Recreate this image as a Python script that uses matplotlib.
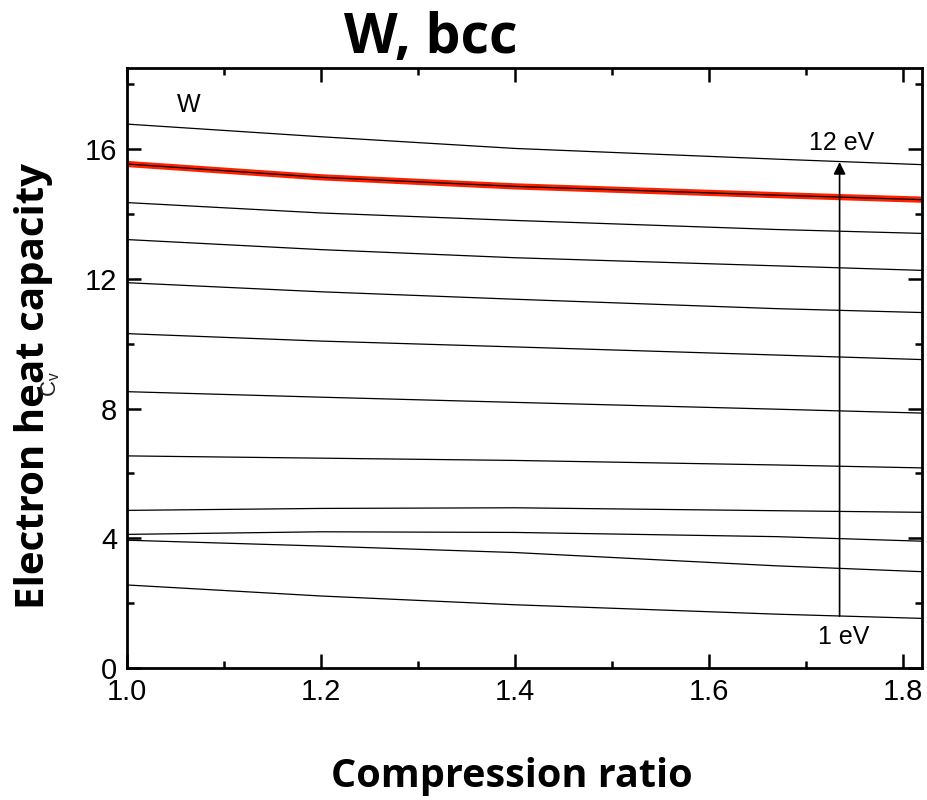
import matplotlib.pyplot as plt
from matplotlib.ticker import MultipleLocator

# compression ratio sample points
ratio = [1.0, 1.2, 1.4, 1.67, 1.82]

# electron heat capacity curves, 1 eV (bottom) to 12 eV (top)
cv_curves = [
    [2.56, 2.22, 1.95, 1.66, 1.53],
    [3.94, 3.76, 3.56, 3.15, 2.97],
    [4.12, 4.20, 4.18, 4.05, 3.91],
    [4.86, 4.92, 4.94, 4.85, 4.80],
    [6.54, 6.47, 6.40, 6.26, 6.17],
    [8.52, 8.35, 8.19, 7.98, 7.86],
    [10.31, 10.08, 9.90, 9.65, 9.51],
    [11.88, 11.60, 11.37, 11.08, 10.96],
    [13.21, 12.90, 12.65, 12.40, 12.26],
    [14.35, 14.03, 13.80, 13.52, 13.40],
    [15.54, 15.13, 14.85, 14.58, 14.44],
    [16.77, 16.38, 16.02, 15.69, 15.52],
]
# the highlighted curve (red)
highlight = [15.54, 15.13, 14.85, 14.58, 14.44]

fig = plt.figure(figsize=(9.28, 8), dpi=100)
ax = fig.add_axes([0.137, 0.165, 0.8565, 0.75])

ax.plot(ratio, highlight, color='#ff2000', lw=4.5, solid_capstyle='butt')
for c in cv_curves:
    ax.plot(ratio, c, color='black', lw=0.9)

ax.set_xlim(1.0, 1.82)
ax.set_ylim(0, 18.5)

ax.annotate('', xy=(1.735, 15.6), xytext=(1.735, 1.6),
            arrowprops=dict(arrowstyle='-|>', color='black', lw=1.2,
                            mutation_scale=18, shrinkA=0, shrinkB=0))
ax.text(1.737, 16.2, '12 eV', fontsize=18, ha='center', va='center',
        family='Liberation Sans')
ax.text(1.739, 0.97, '1 eV', fontsize=18, ha='center', va='center',
        family='Liberation Sans')
ax.text(1.064, 17.35, 'W', fontsize=18, ha='center', va='center',
        family='Liberation Sans')

ax.xaxis.set_major_locator(MultipleLocator(0.2))
ax.xaxis.set_minor_locator(MultipleLocator(0.1))
ax.yaxis.set_major_locator(MultipleLocator(4))
ax.yaxis.set_minor_locator(MultipleLocator(2))
ax.xaxis.set_major_formatter(plt.FuncFormatter(lambda v, p: '%.1f' % v))
ax.tick_params(which='both', direction='in', top=True, right=True,
               labelsize=21, width=1.8, pad=7)
ax.tick_params(which='major', length=10)
ax.tick_params(which='minor', length=5)
for lab in ax.get_xticklabels() + ax.get_yticklabels():
    lab.set_family('Liberation Sans')
for s in ax.spines.values():
    s.set_linewidth(2)

fig.text(0.464, 0.952, 'W, bcc', fontsize=40, fontweight='bold',
         family='Open Sans', ha='center', va='center')
fig.text(0.552, 0.03, 'Compression ratio', fontsize=28.5, fontweight='bold',
         family='Open Sans', ha='center', va='center')
fig.text(0.036, 0.5175, 'Electron heat capacity', fontsize=29, fontweight='bold',
         family='Open Sans', ha='center', va='center', rotation=90)
# faint Cv label sitting behind the y label, as in the original
fig.text(0.055, 0.52, r'$\mathregular{C_v}$', fontsize=16, color='#222222',
         ha='center', va='center', rotation=90, family='Liberation Sans')

fig.savefig('out.png')
